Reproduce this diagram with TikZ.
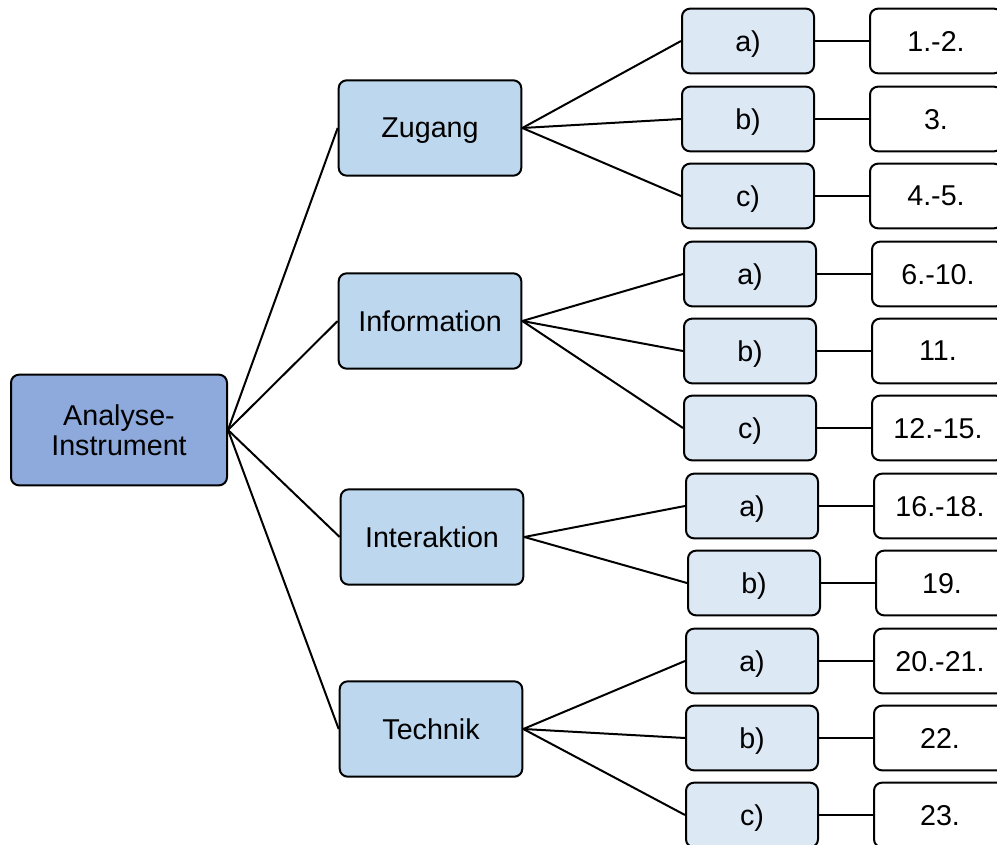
\documentclass[tikz,border=0pt]{standalone}
\usepackage{fontspec}
\setmainfont{Liberation Sans}
\usepackage{xcolor}
\usetikzlibrary{positioning}
\definecolor{rootblue}{HTML}{8EA9DB}
\definecolor{topicblue}{HTML}{BDD7EE}
\definecolor{itemblue}{HTML}{DDE8F5}
\tikzset{
  blk/.style={rectangle, rounded corners=6pt, line width=1.5pt, draw=black, align=center,
              font=\fontsize{21.5}{23}\selectfont, inner sep=2pt, text depth=0pt},
  rootb/.style={blk, fill=rootblue, minimum width=162pt, minimum height=83pt},
  topicb/.style={blk, fill=topicblue, minimum width=137pt, minimum height=71.5pt},
  itemb/.style={blk, fill=itemblue, minimum width=99pt, minimum height=48.5pt},
  numb/.style={blk, fill=white, minimum width=99pt, minimum height=48.5pt},
  link/.style={line width=1.5pt, draw=black},
}
\begin{document}
\begin{tikzpicture}[x=0.75pt, y=-0.75pt, node distance=40.5pt]
    \clip (0,0) rectangle (997,845);

    \node[rootb] (instr) at (119,430) {Analyse-\\Instrument};

    \node[topicb] (zugang)  at (430,128) {Zugang};
    \node[topicb] (info)    at (430,321) {Information};
    \node[topicb] (inter)   at (432,537) {Interaktion};
    \node[topicb] (technik) at (431,729) {Technik};

    % Zugang
    \node[itemb] (za) at (748,41)  {a)};
    \node[itemb] (zb) at (748,119) {b)};
    \node[itemb] (zc) at (748,196) {c)};
    \node[numb, right=of za] (nza) {1.-2.};
    \node[numb, right=of zb] (nzb) {3.};
    \node[numb, right=of zc] (nzc) {4.-5.};

    % Information
    \node[itemb] (ia) at (750,274) {a)};
    \node[itemb] (ib) at (750,351) {b)};
    \node[itemb] (ic) at (750,428) {c)};
    \node[numb, right=of ia] (nia) {6.-10.};
    \node[numb, right=of ib] (nib) {11.};
    \node[numb, right=of ic] (nic) {12.-15.};

    % Interaktion
    \node[itemb] (ka) at (752,506) {a)};
    \node[itemb] (kb) at (754,583) {b)};
    \node[numb, right=of ka] (nka) {16.-18.};
    \node[numb, right=of kb] (nkb) {19.};

    % Technik
    \node[itemb] (ta) at (752,661) {a)};
    \node[itemb] (tb) at (752,738) {b)};
    \node[itemb] (tc) at (752,815) {c)};
    \node[numb, right=of ta] (nta) {20.-21.};
    \node[numb, right=of tb] (ntb) {22.};
    \node[numb, right=of tc] (ntc) {23.};

    \draw[link] (instr.east) -- (zugang.west);
    \draw[link] (instr.east) -- (info.west);
    \draw[link] (instr.east) -- (inter.west);
    \draw[link] (instr.east) -- (technik.west);

    \draw[link] (zugang.east) -- (za.west);
    \draw[link] (zugang.east) -- (zb.west);
    \draw[link] (zugang.east) -- (zc.west);
    \draw[link] (info.east) -- (ia.west);
    \draw[link] (info.east) -- (ib.west);
    \draw[link] (info.east) -- (ic.west);
    \draw[link] (inter.east) -- (ka.west);
    \draw[link] (inter.east) -- (kb.west);
    \draw[link] (technik.east) -- (ta.west);
    \draw[link] (technik.east) -- (tb.west);
    \draw[link] (technik.east) -- (tc.west);

    \draw[link] (za) -- (nza);
    \draw[link] (zb) -- (nzb);
    \draw[link] (zc) -- (nzc);
    \draw[link] (ia) -- (nia);
    \draw[link] (ib) -- (nib);
    \draw[link] (ic) -- (nic);
    \draw[link] (ka) -- (nka);
    \draw[link] (kb) -- (nkb);
    \draw[link] (ta) -- (nta);
    \draw[link] (tb) -- (ntb);
    \draw[link] (tc) -- (ntc);
\end{tikzpicture}
\end{document}
